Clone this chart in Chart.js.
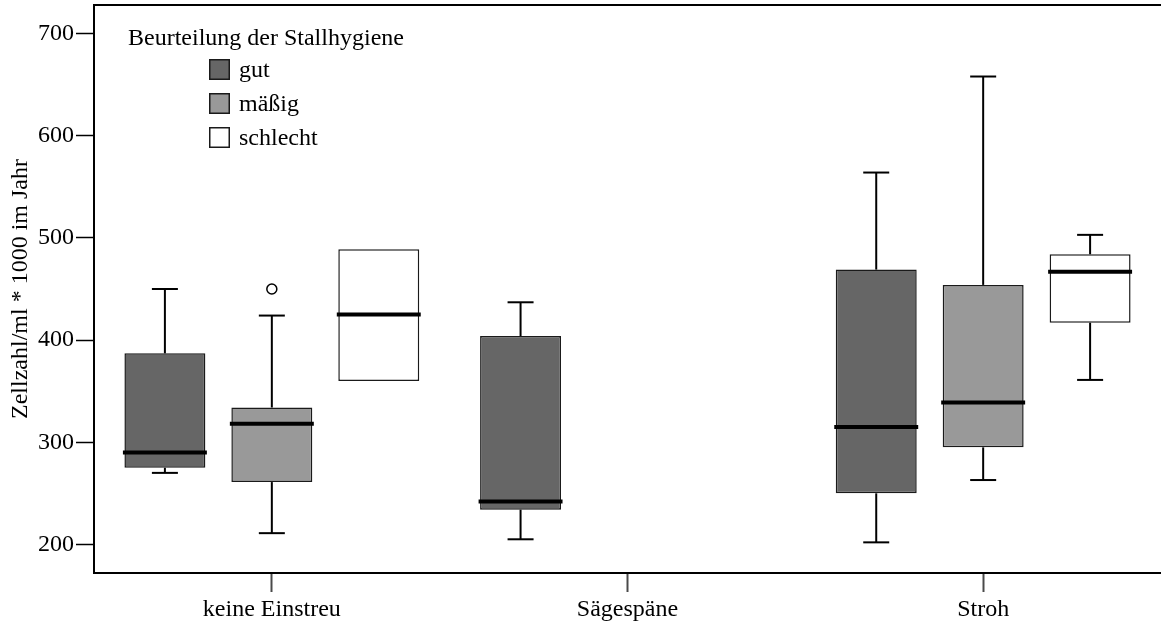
<!DOCTYPE html>
<html>
<head>
<meta charset="utf-8">
<script src="https://cdn.jsdelivr.net/npm/chart.js@4.4.1/dist/chart.umd.min.js"></script>
<style>
html, body { margin: 0; padding: 0; background: #fff; }
#c { display: block; }
</style>
</head>
<body>
<canvas id="c" width="1161" height="628"></canvas>
<script>
// ---- data ----
const categories = ['keine Einstreu', 'Sägespäne', 'Stroh'];
const groupLabels = ['gut', 'mäßig', 'schlecht'];
const legendTitle = 'Beurteilung der Stallhygiene';
const yAxisTitle = 'Zellzahl/ml * 1000 im Jahr';
const yTickValues = [200, 300, 400, 500, 600, 700];

const gutMin    = [270, 205, 202];
const gutQ1     = [275, 234, 250];
const gutMedian = [290, 242, 315];
const gutQ3     = [387, 404, 469];
const gutMax    = [450, 437, 564];
const gutOutliers = [[], [], []];

const maessigMin    = [211, null, 263];
const maessigQ1     = [261, null, 295];
const maessigMedian = [318, null, 339];
const maessigQ3     = [334, null, 454];
const maessigMax    = [424, null, 658];
const maessigOutliers = [[450], [], []];

const schlechtMin    = [null, null, 361];
const schlechtQ1     = [360, null, 417];
const schlechtMedian = [425, null, 467];
const schlechtQ3     = [489, null, 484];
const schlechtMax    = [null, null, 503];
const schlechtOutliers = [[], [], []];

const groupColors = ['#666666', '#999999', '#ffffff'];

const stats = [
  {min: gutMin, q1: gutQ1, med: gutMedian, q3: gutQ3, max: gutMax, out: gutOutliers},
  {min: maessigMin, q1: maessigQ1, med: maessigMedian, q3: maessigQ3, max: maessigMax, out: maessigOutliers},
  {min: schlechtMin, q1: schlechtQ1, med: schlechtMedian, q3: schlechtQ3, max: schlechtMax, out: schlechtOutliers}
];

const FONT = "'Liberation Serif', 'Times New Roman', Times, serif";
Chart.defaults.font.family = FONT;
Chart.defaults.font.size = 24;
Chart.defaults.color = '#000';

const datasets = stats.map((s, d) => ({
  label: groupLabels[d],
  data: categories.map((c, i) => s.q1[i] == null ? null : [s.q1[i], s.q3[i]]),
  backgroundColor: groupColors[d],
  borderColor: '#1a1a1a',
  borderWidth: 1.5,
  borderSkipped: false,
  barPercentage: 0.757,
  categoryPercentage: 0.902
}));

const boxExtras = {
  id: 'boxExtras',
  afterDatasetsDraw(chart) {
    const ctx = chart.ctx;
    const ys = chart.scales.y;
    ctx.save();
    stats.forEach((s, d) => {
      const meta = chart.getDatasetMeta(d);
      categories.forEach((c, i) => {
        if (s.q1[i] == null) return;
        const el = meta.data[i];
        const x = el.x;
        const w = el.width;
        const capHalf = 13;
        ctx.strokeStyle = '#000';
        ctx.lineWidth = 2;
        ctx.lineCap = 'butt';
        if (s.max[i] != null && s.max[i] > s.q3[i]) {
          const yq = ys.getPixelForValue(s.q3[i]);
          const ym = ys.getPixelForValue(s.max[i]);
          ctx.beginPath(); ctx.moveTo(x, yq); ctx.lineTo(x, ym); ctx.stroke();
          ctx.beginPath(); ctx.moveTo(x - capHalf, ym); ctx.lineTo(x + capHalf, ym); ctx.stroke();
        }
        if (s.min[i] != null && s.min[i] < s.q1[i]) {
          const yq = ys.getPixelForValue(s.q1[i]);
          const ym = ys.getPixelForValue(s.min[i]);
          ctx.beginPath(); ctx.moveTo(x, yq); ctx.lineTo(x, ym); ctx.stroke();
          ctx.beginPath(); ctx.moveTo(x - capHalf, ym); ctx.lineTo(x + capHalf, ym); ctx.stroke();
        }
        // median
        const ymed = ys.getPixelForValue(s.med[i]);
        ctx.lineWidth = 4;
        ctx.beginPath(); ctx.moveTo(x - w / 2 - 1.5, ymed); ctx.lineTo(x + w / 2 + 1.5, ymed); ctx.stroke();
        // outliers
        s.out[i].forEach(v => {
          const yo = ys.getPixelForValue(v);
          ctx.lineWidth = 1.5;
          ctx.fillStyle = '#fff';
          ctx.beginPath(); ctx.arc(x, yo, 5, 0, Math.PI * 2); ctx.fill(); ctx.stroke();
        });
      });
    });
    ctx.restore();
  },
  afterDraw(chart) {
    const ctx = chart.ctx;
    const a = chart.chartArea;
    ctx.save();
    // top frame line
    ctx.strokeStyle = '#000';
    ctx.lineWidth = 2;
    ctx.beginPath(); ctx.moveTo(a.left - 1, a.top); ctx.lineTo(chart.width, a.top); ctx.stroke();
    // legend
    ctx.font = '24px ' + FONT;
    ctx.fillStyle = '#000';
    ctx.textBaseline = 'alphabetic';
    ctx.textAlign = 'left';
    ctx.fillText(legendTitle, 128, 45);
    groupLabels.forEach((lab, d) => {
      const by = 59 + d * 34;
      ctx.fillStyle = groupColors[d];
      ctx.fillRect(209, by, 21, 21);
      ctx.strokeStyle = '#1a1a1a';
      ctx.lineWidth = 1.5;
      ctx.strokeRect(209.75, by + 0.75, 19.5, 19.5);
      ctx.fillStyle = '#000';
      ctx.fillText(lab, 239, by + 18);
    });
    ctx.restore();
  }
};

new Chart(document.getElementById('c'), {
  type: 'bar',
  data: { labels: categories, datasets },
  options: {
    responsive: false,
    animation: false,
    layout: { padding: { top: 5, right: 0, bottom: 0, left: 0 } },
    plugins: { legend: { display: false }, tooltip: { enabled: false } },
    scales: {
      x: {
        offset: true,
        afterFit(scale) { scale.height = 55; scale.paddingLeft = 0; scale.paddingRight = 0; },
        grid: { display: true, offset: false, drawOnChartArea: false, drawTicks: true, tickLength: 19, tickColor: '#4a4a4a', tickWidth: 2 },
        border: { display: true, color: '#000', width: 2 },
        ticks: { padding: 3, font: { size: 24 }, color: '#000', maxRotation: 0 }
      },
      y: {
        min: 172,
        max: 728,
        afterFit(scale) { scale.width = 94; scale.paddingTop = 0; scale.paddingBottom = 0; },
        afterBuildTicks(scale) { scale.ticks = yTickValues.map(v => ({ value: v })); },
        grid: { display: true, drawOnChartArea: false, drawTicks: true, tickLength: 18, tickColor: '#000', tickWidth: 1.5 },
        border: { display: true, color: '#000', width: 2 },
        ticks: { padding: 2, font: { size: 24 }, color: '#000' },
        title: { display: true, text: yAxisTitle, font: { size: 24 }, color: '#000', padding: { top: 6, bottom: 0 } }
      }
    }
  },
  plugins: [boxExtras]
});
</script>
</body>
</html>
